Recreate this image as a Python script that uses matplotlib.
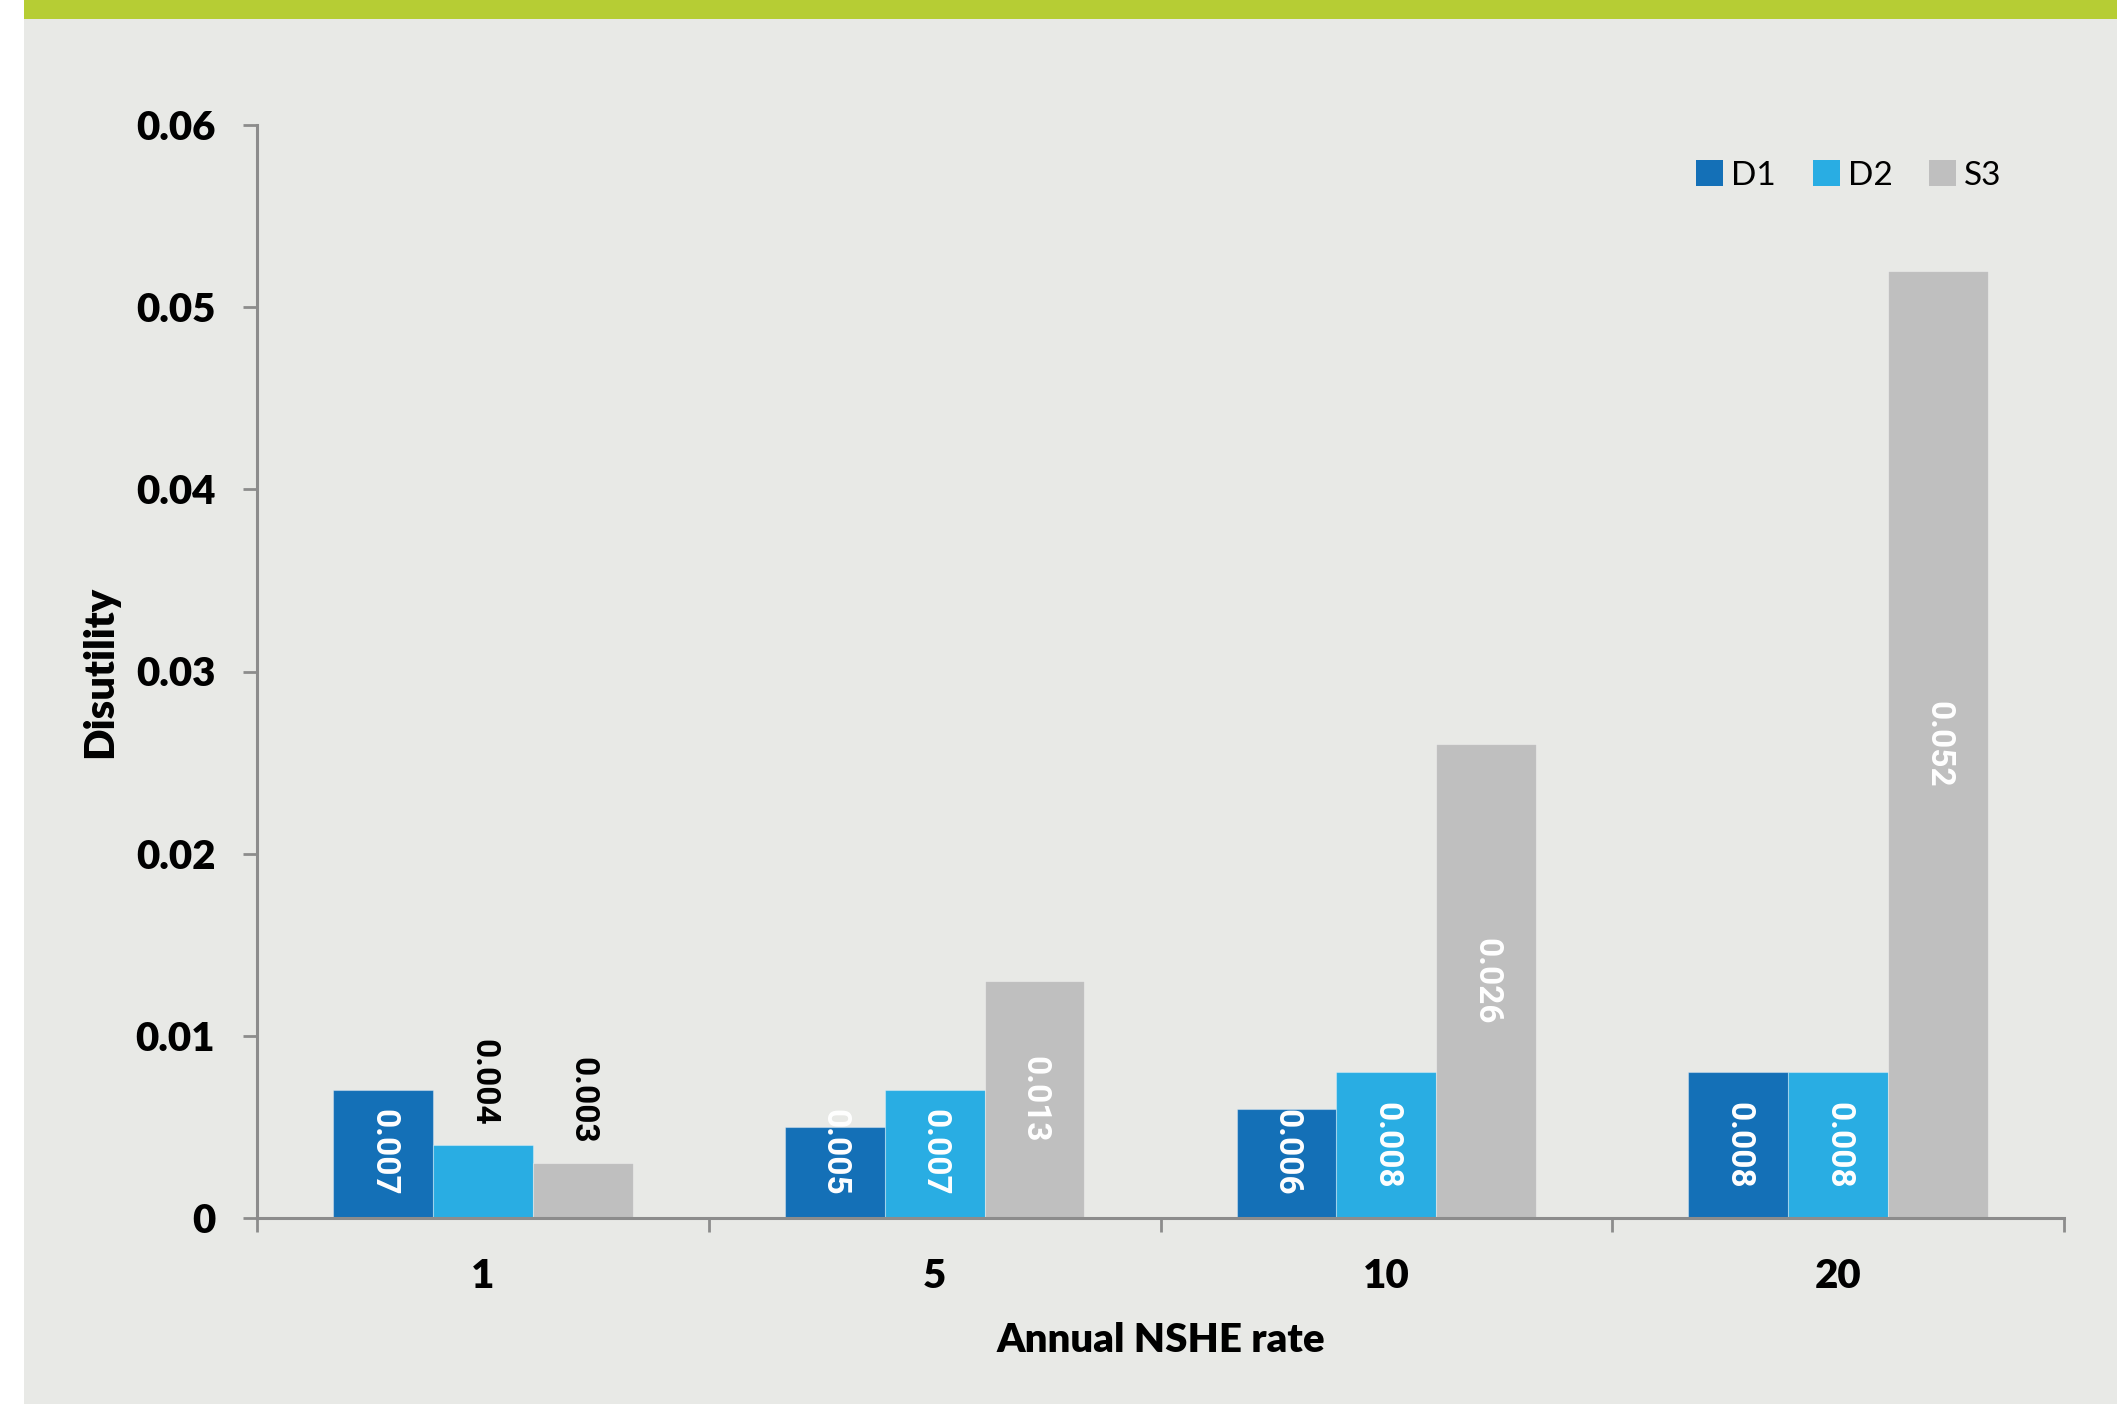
import matplotlib
matplotlib.use("Agg")
import matplotlib.pyplot as plt
from matplotlib.patches import Rectangle
import numpy as np

# Data
categories = ["1", "5", "10", "20"]
series_names = ["D1", "D2", "S3"]
d1 = [0.007, 0.005, 0.006, 0.008]
d2 = [0.004, 0.007, 0.008, 0.008]
s3 = [0.003, 0.013, 0.026, 0.052]
y_ticks = [0, 0.01, 0.02, 0.03, 0.04, 0.05, 0.06]
y_tick_labels = ["0", "0.01", "0.02", "0.03", "0.04", "0.05", "0.06"]

colors = ["#1470B7", "#29ADE3", "#BFBFBF"]
bg = "#E8E9E6"
green = "#B6CD34"
axis_gray = "#8C8C8C"

W, H = 2117, 1404
fig = plt.figure(figsize=(W / 100, H / 100), dpi=100)
fig.patch.set_facecolor("white")

# panel background and top accent stripe
fig.patches.append(Rectangle((24 / W, 0), 1 - 24 / W, 1 - 19 / H,
                             transform=fig.transFigure, facecolor=bg,
                             edgecolor="none", zorder=-10))
fig.patches.append(Rectangle((24 / W, 1 - 19 / H), 1 - 24 / W, 19 / H,
                             transform=fig.transFigure, facecolor=green,
                             edgecolor="none", zorder=-10))

ax = fig.add_axes([257 / W, 1 - 1218 / H, (2064 - 257) / W, (1218 - 125) / H])
ax.set_facecolor("none")

x = np.arange(len(categories))
bw = 0.221
series = [d1, d2, s3]
label_font = "Roboto"
main_font = "Lato"

for i, (vals, col, name) in enumerate(zip(series, colors, series_names)):
    xs = x + (i - 1) * bw
    ax.bar(xs, vals, width=bw, color=col, edgecolor=(1, 1, 1, 0.35),
           linewidth=0.8, label=name, zorder=2)
    for xi, v in zip(xs, vals):
        if v < 0.005:
            # short bars: value sits above the bar in black
            ax.annotate(f"{v:.3f}", (xi, v), xytext=(0, 14),
                        textcoords="offset points", rotation=270,
                        ha="center", va="bottom", fontsize=24,
                        fontweight="bold", color="black",
                        family=label_font, zorder=3)
        else:
            yc = max(v / 2, 0.0036)
            ax.text(xi, yc, f"{v:.3f}", rotation=270, ha="center",
                    va="center", fontsize=24, fontweight="bold",
                    color="white", family=label_font, zorder=3)

ax.set_xlim(-0.5, len(categories) - 0.5)
ax.set_ylim(0, 0.06)

for s in ["top", "right"]:
    ax.spines[s].set_visible(False)
for s in ["left", "bottom"]:
    ax.spines[s].set_color(axis_gray)
    ax.spines[s].set_linewidth(2.2)

ax.set_yticks(y_ticks)
ax.set_yticklabels(y_tick_labels, fontsize=29, fontweight="heavy",
                   family=main_font)
ax.tick_params(axis="y", length=10, width=2, color=axis_gray, pad=20)

ax.set_xticks(x)
ax.set_xticklabels(categories, fontsize=29, fontweight="heavy",
                   family=main_font)
ax.tick_params(axis="x", which="major", length=0, pad=29)
ax.set_xticks(np.arange(-0.5, len(categories)), minor=True)
ax.tick_params(axis="x", which="minor", length=10, width=2,
               color=axis_gray, direction="out")

ax.set_xlabel("Annual NSHE rate", fontsize=29, fontweight="heavy",
              family=main_font, labelpad=19)
ax.set_ylabel("Disutility", fontsize=30, fontweight="heavy",
              family=main_font, labelpad=12)

handles = [Rectangle((0, 0), 1, 1, facecolor=c, edgecolor="none")
           for c in colors]
leg = ax.legend(handles, series_names, loc="upper right",
                bbox_to_anchor=(0.673, 0.92, 0.3, 0.06),
                ncol=3, frameon=False, prop={"family": main_font, "size": 24},
                handlelength=0.8, handleheight=0.8, handletextpad=0.25,
                columnspacing=1.1, borderaxespad=0)

fig.savefig("out.png", dpi=100, facecolor=fig.get_facecolor())
